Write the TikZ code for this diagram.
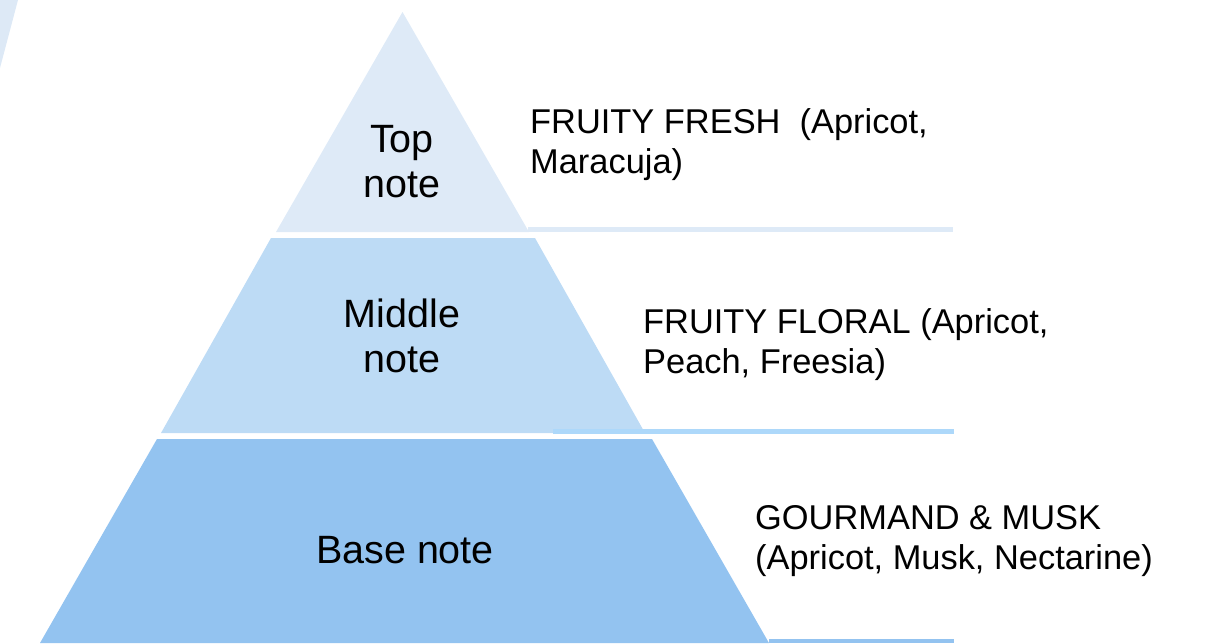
\documentclass[tikz,border=0pt]{standalone}
\usepackage{fontspec}
\setmainfont{Liberation Sans}
\definecolor{topc}{HTML}{DEEAF7}
\definecolor{midc}{HTML}{BDDBF5}
\definecolor{basec}{HTML}{93C3F0}
\definecolor{midline}{HTML}{ADD8FA}
\definecolor{cornerc}{HTML}{DDE9F6}
\begin{document}
\begin{tikzpicture}[x=1pt,y=-1pt,
  tiertext/.style={font=\fontsize{39.5}{45}\selectfont, align=center, anchor=base, inner sep=0pt},
  notetext/.style={font=\fontsize{34.4}{39.5}\selectfont, align=left, anchor=base west, inner sep=0pt}]
\useasboundingbox (0,0) rectangle (1219,643);
% corner sliver
\fill[cornerc] (0,0) -- (18,0) -- (0,68) -- cycle;
% tiers
\fill[topc] (402.5,12) -- (529,232) -- (276,232) -- cycle;
\fill[midc] (271,238) -- (535,238) -- (645,433) -- (161,433) -- cycle;
\fill[basec] (157,439) -- (652,439) -- (769,643) -- (40,643) -- cycle;
% leader lines
\fill[topc] (528,227) rectangle (953,232);
\fill[midline] (553,429) rectangle (954,434);
\fill[basec] (769,639) rectangle (954,643);
% tier labels (base anchor = baseline of last line)
\node[tiertext] (top) at (402,197) {Top\\note};
\node[tiertext] (mid) at (402,372) {Middle\\note};
\node[tiertext] (base) at (405,563) {Base note};
% descriptions
\node[notetext] (d1) at (530,173) {FRUITY FRESH\ \ (Apricot,\\Maracuja)};
\node[notetext] (d2) at (643,373) {FRUITY FLORAL (Apricot,\\Peach, Freesia)};
\node[notetext] (d3) at (755,569) {GOURMAND \& MUSK\\(Apricot, Musk, Nectarine)};
\end{tikzpicture}
\end{document}
